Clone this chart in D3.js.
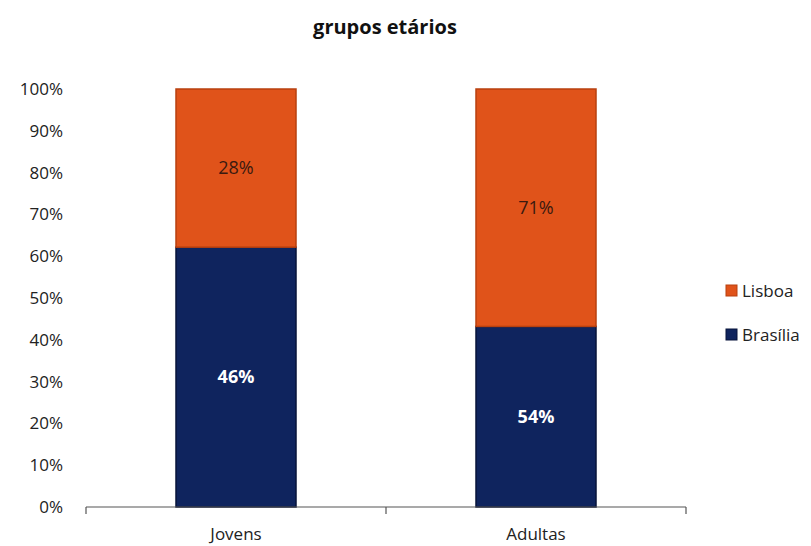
<!DOCTYPE html>
<html>
<head>
<meta charset="utf-8">
<script src="https://cdn.jsdelivr.net/npm/d3@7"></script>
<style>
  body { margin: 0; background: #fff; }
  text { font-family: "Open Sans", "Noto Sans", sans-serif; }
</style>
</head>
<body>
<div id="chart"></div>
<script>
const categories = ['Jovens', 'Adultas'];
const seriesNames = ['Brasília', 'Lisboa'];
const brasilia = [46, 54];
const lisboa = [28, 71];
const yTicks = [0, 10, 20, 30, 40, 50, 60, 70, 80, 90, 100];

const colors = {'Brasília': '#0f245e', 'Lisboa': '#e0531a'};
const strokes = {'Brasília': '#07133a', 'Lisboa': '#b8400f'};

const W = 811, H = 546;
const margin = {top: 89, right: 125, bottom: 39, left: 86};
const width = W - margin.left - margin.right,
      height = H - margin.top - margin.bottom;

const svg = d3.select('#chart').append('svg')
    .attr('width', W).attr('height', H);

svg.append('text')
    .attr('x', 385).attr('y', 34)
    .attr('text-anchor', 'middle')
    .attr('font-size', 20).attr('font-weight', 'bold')
    .attr('fill', '#111')
    .text('grupos etários');

const g = svg.append('g').attr('transform', `translate(${margin.left},${margin.top})`);

const x = d3.scaleBand().domain(categories).range([0, width]).paddingInner(0.6).paddingOuter(0.3);
const y = d3.scaleLinear().domain([0, 100]).range([height, 0]);

// 100% stacked: values normalised per category
const rows = categories.map((c, i) => {
    const tot = brasilia[i] + lisboa[i];
    return {cat: c, 'Brasília': brasilia[i] / tot * 100, 'Lisboa': lisboa[i] / tot * 100,
            raw: {'Brasília': brasilia[i], 'Lisboa': lisboa[i]}};
});
const stack = d3.stack().keys(seriesNames)(rows);

// y tick labels
g.selectAll('.ylab').data(yTicks).enter()
    .append('text')
    .attr('x', -23)
    .attr('y', d => y(d))
    .attr('dy', '0.35em')
    .attr('text-anchor', 'end')
    .attr('font-size', 17)
    .attr('fill', '#222')
    .text(d => d + '%');

// bars
stack.forEach(layer => {
    const key = layer.key;
    g.selectAll('.bar-' + key).data(layer).enter()
        .append('rect')
        .attr('x', d => x(d.data.cat))
        .attr('width', x.bandwidth())
        .attr('y', d => y(d[1]))
        .attr('height', d => y(d[0]) - y(d[1]))
        .attr('fill', colors[key])
        .attr('stroke', strokes[key])
        .attr('stroke-width', 1.5);

    g.selectAll('.lab-' + key).data(layer).enter()
        .append('text')
        .attr('x', d => x(d.data.cat) + x.bandwidth() / 2)
        .attr('y', d => (y(d[0]) + y(d[1])) / 2)
        .attr('dy', '0.35em')
        .attr('text-anchor', 'middle')
        .attr('font-size', 18)
        .attr('font-weight', key === 'Brasília' ? 'bold' : 'normal')
        .attr('fill', key === 'Brasília' ? '#fff' : '#3a1a10')
        .text(d => d.data.raw[key] + '%');
});

// x axis
const xAxis = g.append('g').attr('transform', `translate(0,${height})`);
xAxis.append('line')
    .attr('x1', 0).attr('x2', width)
    .attr('stroke', '#555').attr('stroke-width', 1.2);
const edges = [0].concat(categories.map(c => x(c) + x.bandwidth() / 2 + x.step() / 2));
xAxis.selectAll('.tk').data(edges).enter()
    .append('line')
    .attr('x1', d => d).attr('x2', d => d)
    .attr('y1', 0).attr('y2', 7)
    .attr('stroke', '#555').attr('stroke-width', 1.2);
xAxis.selectAll('.xlab').data(categories).enter()
    .append('text')
    .attr('x', d => x(d) + x.bandwidth() / 2)
    .attr('y', 27)
    .attr('dy', '0.35em')
    .attr('text-anchor', 'middle')
    .attr('font-size', 17)
    .attr('fill', '#222')
    .text(d => d);

// legend
const legend = svg.append('g').attr('transform', 'translate(726,291)');
['Lisboa', 'Brasília'].forEach((k, i) => {
    const row = legend.append('g').attr('transform', `translate(0,${i * 44})`);
    row.append('rect')
        .attr('x', 0).attr('y', -6).attr('width', 11).attr('height', 11)
        .attr('fill', colors[k]).attr('stroke', strokes[k]);
    row.append('text')
        .attr('x', 16).attr('y', 0).attr('dy', '0.35em')
        .attr('font-size', 17).attr('fill', '#222')
        .text(k);
});
</script>
</body>
</html>
